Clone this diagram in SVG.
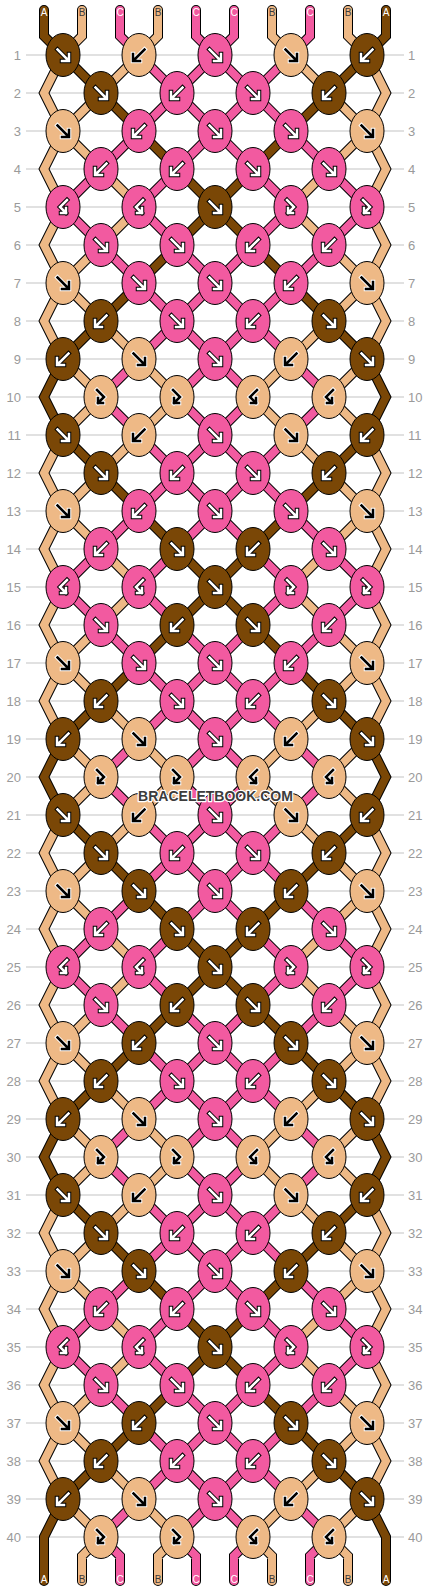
<svg xmlns="http://www.w3.org/2000/svg" width="430" height="1592" viewBox="0 0 430 1592">
<style>
.gl{fill:none;stroke:#c3c3c3;stroke-width:1}
.num{font-family:"Liberation Sans",Arial,sans-serif;font-size:13px;fill:#9a9a9a}
.nl{text-anchor:end}
.ol,.sA,.sB,.sC{fill:none;stroke-linejoin:miter;stroke-linecap:round}
.ol{stroke:#000;stroke-width:10}
.sA{stroke:#7a4706;stroke-width:8}
.sB{stroke:#eeb986;stroke-width:8}
.sC{stroke:#f25aa0;stroke-width:8}
.eA,.eB,.eC{stroke:#000;stroke-width:1}
.eA{fill:#7a4706}.eB{fill:#eeb986}.eC{fill:#f25aa0}
.wo,.wi,.bo,.bi{fill:none;stroke-linejoin:miter;stroke-linecap:square}
.wo{stroke:#000;stroke-width:4.5}.wi{stroke:#fff;stroke-width:2.5}
.bo{stroke:#fff;stroke-width:4.5}.bi{stroke:#000;stroke-width:2.5}
.lb{font-family:"Liberation Sans",Arial,sans-serif;font-size:10px;text-anchor:middle}
.lw{fill:#fff}.ld{fill:#3a3a3a}
.wm{font-family:"Liberation Sans",Arial,sans-serif;font-size:14px;font-weight:bold;text-anchor:middle;fill:#3c3c3c;stroke:#fff;stroke-width:2.5;paint-order:stroke;stroke-linejoin:round}
</style>
<defs>
<path id="pF" d="M-5.5-5.5L4.5 4.5M6-1V6H-1"/>
<path id="pB" d="M5.5-5.5L-4.5 4.5M-6-1V6H1"/>
<path id="pFB" d="M-4-7L3 0L-3 6M-3 1V6H2"/>
<path id="pBF" d="M4-7L-3 0L3 6M3 1V6H-2"/>
<g id="nAF"><ellipse class="eA" rx="17" ry="21.5"/><use href="#pF" class="wo"/><use href="#pF" class="wi"/></g>
<g id="nAB"><ellipse class="eA" rx="17" ry="21.5"/><use href="#pB" class="wo"/><use href="#pB" class="wi"/></g>
<g id="nBF"><ellipse class="eB" rx="17" ry="21.5"/><use href="#pF" class="bo"/><use href="#pF" class="bi"/></g>
<g id="nBB"><ellipse class="eB" rx="17" ry="21.5"/><use href="#pB" class="bo"/><use href="#pB" class="bi"/></g>
<g id="nBX"><ellipse class="eB" rx="17" ry="21.5"/><use href="#pFB" class="bo"/><use href="#pFB" class="bi"/></g>
<g id="nBY"><ellipse class="eB" rx="17" ry="21.5"/><use href="#pBF" class="bo"/><use href="#pBF" class="bi"/></g>
<g id="nCF"><ellipse class="eC" rx="17" ry="21.5"/><use href="#pF" class="wo"/><use href="#pF" class="wi"/></g>
<g id="nCB"><ellipse class="eC" rx="17" ry="21.5"/><use href="#pB" class="wo"/><use href="#pB" class="wi"/></g>
<g id="nCX"><ellipse class="eC" rx="17" ry="21.5"/><use href="#pFB" class="wo"/><use href="#pFB" class="wi"/></g>
<g id="nCY"><ellipse class="eC" rx="17" ry="21.5"/><use href="#pBF" class="wo"/><use href="#pBF" class="wi"/></g>
<path id="blA" d="M63 55L367 359L386 397L367 435M367 55L63 359L44 397L63 435"/>
<path id="blB" d="M63 55L44 93L63 131L139 207L101 245L63 283L44 321L63 359L101 397L63 435M367 55L386 93L367 131L291 207L329 245L367 283L386 321L367 359L329 397L367 435M139 55L63 131L44 169L63 207L44 245L63 283L177 397L139 435M291 55L367 131L386 169L367 207L386 245L367 283L253 397L291 435"/>
<path id="blC" d="M139 55L291 207L101 397L139 435M291 55L139 207L329 397L291 435M215 55L367 207L177 397L215 435M215 55L63 207L253 397L215 435"/>
<g id="gA"><use href="#blA"/><use href="#blA" y="380"/><use href="#blA" y="760"/><path d="M63 1195L367 1499L386 1537V1581M367 1195L63 1499L44 1537V1581M44 10V36L63 55M386 10V36L367 55"/></g>
<g id="gB"><use href="#blB"/><use href="#blB" y="380"/><use href="#blB" y="760"/><path d="M63 1195L44 1233L63 1271L139 1347L101 1385L63 1423L44 1461L63 1499L101 1537L82 1556V1581M367 1195L386 1233L367 1271L291 1347L329 1385L367 1423L386 1461L367 1499L329 1537L348 1556V1581M139 1195L63 1271L44 1309L63 1347L44 1385L63 1423L177 1537L158 1556V1581M291 1195L367 1271L386 1309L367 1347L386 1385L367 1423L253 1537L272 1556V1581M82 10V36L63 55M158 10V36L139 55M272 10V36L291 55M348 10V36L367 55"/></g>
<g id="gC"><use href="#blC"/><use href="#blC" y="380"/><use href="#blC" y="760"/><path d="M139 1195L291 1347L101 1537L120 1556V1581M291 1195L139 1347L329 1537L310 1556V1581M215 1195L367 1347L177 1537L196 1556V1581M215 1195L63 1347L253 1537L234 1556V1581M120 10V36L139 55M196 10V36L215 55M234 10V36L215 55M310 10V36L291 55"/></g>
</defs>
<rect width="430" height="1592" fill="#fff"/>
<path id="gridlines" class="gl" d="M26 55H404M26 93H404M26 131H404M26 169H404M26 207H404M26 245H404M26 283H404M26 321H404M26 359H404M26 397H404M26 435H404M26 473H404M26 511H404M26 549H404M26 587H404M26 625H404M26 663H404M26 701H404M26 739H404M26 777H404M26 815H404M26 853H404M26 891H404M26 929H404M26 967H404M26 1005H404M26 1043H404M26 1081H404M26 1119H404M26 1157H404M26 1195H404M26 1233H404M26 1271H404M26 1309H404M26 1347H404M26 1385H404M26 1423H404M26 1461H404M26 1499H404M26 1537H404"/>
<g id="rownumbers" class="num" transform="translate(0 4.5)">
<g class="nl">
<text x="21" y="55">1</text><text x="21" y="93">2</text><text x="21" y="131">3</text><text x="21" y="169">4</text><text x="21" y="207">5</text><text x="21" y="245">6</text><text x="21" y="283">7</text><text x="21" y="321">8</text><text x="21" y="359">9</text><text x="21" y="397">10</text>
<text x="21" y="435">11</text><text x="21" y="473">12</text><text x="21" y="511">13</text><text x="21" y="549">14</text><text x="21" y="587">15</text><text x="21" y="625">16</text><text x="21" y="663">17</text><text x="21" y="701">18</text><text x="21" y="739">19</text><text x="21" y="777">20</text>
<text x="21" y="815">21</text><text x="21" y="853">22</text><text x="21" y="891">23</text><text x="21" y="929">24</text><text x="21" y="967">25</text><text x="21" y="1005">26</text><text x="21" y="1043">27</text><text x="21" y="1081">28</text><text x="21" y="1119">29</text><text x="21" y="1157">30</text>
<text x="21" y="1195">31</text><text x="21" y="1233">32</text><text x="21" y="1271">33</text><text x="21" y="1309">34</text><text x="21" y="1347">35</text><text x="21" y="1385">36</text><text x="21" y="1423">37</text><text x="21" y="1461">38</text><text x="21" y="1499">39</text><text x="21" y="1537">40</text>
</g>
<g>
<text x="408" y="55">1</text><text x="408" y="93">2</text><text x="408" y="131">3</text><text x="408" y="169">4</text><text x="408" y="207">5</text><text x="408" y="245">6</text><text x="408" y="283">7</text><text x="408" y="321">8</text><text x="408" y="359">9</text><text x="408" y="397">10</text>
<text x="408" y="435">11</text><text x="408" y="473">12</text><text x="408" y="511">13</text><text x="408" y="549">14</text><text x="408" y="587">15</text><text x="408" y="625">16</text><text x="408" y="663">17</text><text x="408" y="701">18</text><text x="408" y="739">19</text><text x="408" y="777">20</text>
<text x="408" y="815">21</text><text x="408" y="853">22</text><text x="408" y="891">23</text><text x="408" y="929">24</text><text x="408" y="967">25</text><text x="408" y="1005">26</text><text x="408" y="1043">27</text><text x="408" y="1081">28</text><text x="408" y="1119">29</text><text x="408" y="1157">30</text>
<text x="408" y="1195">31</text><text x="408" y="1233">32</text><text x="408" y="1271">33</text><text x="408" y="1309">34</text><text x="408" y="1347">35</text><text x="408" y="1385">36</text><text x="408" y="1423">37</text><text x="408" y="1461">38</text><text x="408" y="1499">39</text><text x="408" y="1537">40</text>
</g>
</g>
<g id="connectors">
<use href="#gA" class="ol"/><use href="#gB" class="ol"/><use href="#gC" class="ol"/>
<use href="#gA" class="sA"/><use href="#gB" class="sB"/><use href="#gC" class="sC"/>
</g>
<g id="knots">
<g id="k1_1"><use href="#nAF" x="63" y="55"/></g><g id="k1_2"><use href="#nBB" x="139" y="55"/></g><g id="k1_3"><use href="#nCF" x="215" y="55"/></g><g id="k1_4"><use href="#nBF" x="291" y="55"/></g><g id="k1_5"><use href="#nAB" x="367" y="55"/></g>
<g id="k2_1"><use href="#nAF" x="101" y="93"/></g><g id="k2_2"><use href="#nCB" x="177" y="93"/></g><g id="k2_3"><use href="#nCF" x="253" y="93"/></g><g id="k2_4"><use href="#nAB" x="329" y="93"/></g>
<g id="k3_1"><use href="#nBF" x="63" y="131"/></g><g id="k3_2"><use href="#nCB" x="139" y="131"/></g><g id="k3_3"><use href="#nCF" x="215" y="131"/></g><g id="k3_4"><use href="#nCF" x="291" y="131"/></g><g id="k3_5"><use href="#nBF" x="367" y="131"/></g>
<g id="k4_1"><use href="#nCB" x="101" y="169"/></g><g id="k4_2"><use href="#nCB" x="177" y="169"/></g><g id="k4_3"><use href="#nCF" x="253" y="169"/></g><g id="k4_4"><use href="#nCF" x="329" y="169"/></g>
<g id="k5_1"><use href="#nCY" x="63" y="207"/></g><g id="k5_2"><use href="#nCY" x="139" y="207"/></g><g id="k5_3"><use href="#nAF" x="215" y="207"/></g><g id="k5_4"><use href="#nCX" x="291" y="207"/></g><g id="k5_5"><use href="#nCX" x="367" y="207"/></g>
<g id="k6_1"><use href="#nCF" x="101" y="245"/></g><g id="k6_2"><use href="#nCF" x="177" y="245"/></g><g id="k6_3"><use href="#nCB" x="253" y="245"/></g><g id="k6_4"><use href="#nCB" x="329" y="245"/></g>
<g id="k7_1"><use href="#nBF" x="63" y="283"/></g><g id="k7_2"><use href="#nCF" x="139" y="283"/></g><g id="k7_3"><use href="#nCF" x="215" y="283"/></g><g id="k7_4"><use href="#nCB" x="291" y="283"/></g><g id="k7_5"><use href="#nBF" x="367" y="283"/></g>
<g id="k8_1"><use href="#nAB" x="101" y="321"/></g><g id="k8_2"><use href="#nCF" x="177" y="321"/></g><g id="k8_3"><use href="#nCB" x="253" y="321"/></g><g id="k8_4"><use href="#nAF" x="329" y="321"/></g>
<g id="k9_1"><use href="#nAB" x="63" y="359"/></g><g id="k9_2"><use href="#nBF" x="139" y="359"/></g><g id="k9_3"><use href="#nCF" x="215" y="359"/></g><g id="k9_4"><use href="#nBB" x="291" y="359"/></g><g id="k9_5"><use href="#nAF" x="367" y="359"/></g>
<g id="k10_1"><use href="#nBX" x="101" y="397"/></g><g id="k10_2"><use href="#nBX" x="177" y="397"/></g><g id="k10_3"><use href="#nBY" x="253" y="397"/></g><g id="k10_4"><use href="#nBY" x="329" y="397"/></g>
<g id="k11_1"><use href="#nAF" x="63" y="435"/></g><g id="k11_2"><use href="#nBB" x="139" y="435"/></g><g id="k11_3"><use href="#nCF" x="215" y="435"/></g><g id="k11_4"><use href="#nBF" x="291" y="435"/></g><g id="k11_5"><use href="#nAB" x="367" y="435"/></g>
<g id="k12_1"><use href="#nAF" x="101" y="473"/></g><g id="k12_2"><use href="#nCB" x="177" y="473"/></g><g id="k12_3"><use href="#nCF" x="253" y="473"/></g><g id="k12_4"><use href="#nAB" x="329" y="473"/></g>
<g id="k13_1"><use href="#nBF" x="63" y="511"/></g><g id="k13_2"><use href="#nCB" x="139" y="511"/></g><g id="k13_3"><use href="#nCF" x="215" y="511"/></g><g id="k13_4"><use href="#nCF" x="291" y="511"/></g><g id="k13_5"><use href="#nBF" x="367" y="511"/></g>
<g id="k14_1"><use href="#nCB" x="101" y="549"/></g><g id="k14_2"><use href="#nAF" x="177" y="549"/></g><g id="k14_3"><use href="#nAB" x="253" y="549"/></g><g id="k14_4"><use href="#nCF" x="329" y="549"/></g>
<g id="k15_1"><use href="#nCY" x="63" y="587"/></g><g id="k15_2"><use href="#nCY" x="139" y="587"/></g><g id="k15_3"><use href="#nAF" x="215" y="587"/></g><g id="k15_4"><use href="#nCX" x="291" y="587"/></g><g id="k15_5"><use href="#nCX" x="367" y="587"/></g>
<g id="k16_1"><use href="#nCF" x="101" y="625"/></g><g id="k16_2"><use href="#nAB" x="177" y="625"/></g><g id="k16_3"><use href="#nAF" x="253" y="625"/></g><g id="k16_4"><use href="#nCB" x="329" y="625"/></g>
<g id="k17_1"><use href="#nBF" x="63" y="663"/></g><g id="k17_2"><use href="#nCF" x="139" y="663"/></g><g id="k17_3"><use href="#nCF" x="215" y="663"/></g><g id="k17_4"><use href="#nCB" x="291" y="663"/></g><g id="k17_5"><use href="#nBF" x="367" y="663"/></g>
<g id="k18_1"><use href="#nAB" x="101" y="701"/></g><g id="k18_2"><use href="#nCF" x="177" y="701"/></g><g id="k18_3"><use href="#nCB" x="253" y="701"/></g><g id="k18_4"><use href="#nAF" x="329" y="701"/></g>
<g id="k19_1"><use href="#nAB" x="63" y="739"/></g><g id="k19_2"><use href="#nBF" x="139" y="739"/></g><g id="k19_3"><use href="#nCF" x="215" y="739"/></g><g id="k19_4"><use href="#nBB" x="291" y="739"/></g><g id="k19_5"><use href="#nAF" x="367" y="739"/></g>
<g id="k20_1"><use href="#nBX" x="101" y="777"/></g><g id="k20_2"><use href="#nBX" x="177" y="777"/></g><g id="k20_3"><use href="#nBY" x="253" y="777"/></g><g id="k20_4"><use href="#nBY" x="329" y="777"/></g>
<g id="k21_1"><use href="#nAF" x="63" y="815"/></g><g id="k21_2"><use href="#nBB" x="139" y="815"/></g><g id="k21_3"><use href="#nCF" x="215" y="815"/></g><g id="k21_4"><use href="#nBF" x="291" y="815"/></g><g id="k21_5"><use href="#nAB" x="367" y="815"/></g>
<g id="k22_1"><use href="#nAF" x="101" y="853"/></g><g id="k22_2"><use href="#nCB" x="177" y="853"/></g><g id="k22_3"><use href="#nCF" x="253" y="853"/></g><g id="k22_4"><use href="#nAB" x="329" y="853"/></g>
<g id="k23_1"><use href="#nBF" x="63" y="891"/></g><g id="k23_2"><use href="#nAF" x="139" y="891"/></g><g id="k23_3"><use href="#nCF" x="215" y="891"/></g><g id="k23_4"><use href="#nAB" x="291" y="891"/></g><g id="k23_5"><use href="#nBF" x="367" y="891"/></g>
<g id="k24_1"><use href="#nCB" x="101" y="929"/></g><g id="k24_2"><use href="#nAF" x="177" y="929"/></g><g id="k24_3"><use href="#nAB" x="253" y="929"/></g><g id="k24_4"><use href="#nCF" x="329" y="929"/></g>
<g id="k25_1"><use href="#nCY" x="63" y="967"/></g><g id="k25_2"><use href="#nCY" x="139" y="967"/></g><g id="k25_3"><use href="#nAF" x="215" y="967"/></g><g id="k25_4"><use href="#nCX" x="291" y="967"/></g><g id="k25_5"><use href="#nCX" x="367" y="967"/></g>
<g id="k26_1"><use href="#nCF" x="101" y="1005"/></g><g id="k26_2"><use href="#nAB" x="177" y="1005"/></g><g id="k26_3"><use href="#nAF" x="253" y="1005"/></g><g id="k26_4"><use href="#nCB" x="329" y="1005"/></g>
<g id="k27_1"><use href="#nBF" x="63" y="1043"/></g><g id="k27_2"><use href="#nAB" x="139" y="1043"/></g><g id="k27_3"><use href="#nCF" x="215" y="1043"/></g><g id="k27_4"><use href="#nAF" x="291" y="1043"/></g><g id="k27_5"><use href="#nBF" x="367" y="1043"/></g>
<g id="k28_1"><use href="#nAB" x="101" y="1081"/></g><g id="k28_2"><use href="#nCF" x="177" y="1081"/></g><g id="k28_3"><use href="#nCB" x="253" y="1081"/></g><g id="k28_4"><use href="#nAF" x="329" y="1081"/></g>
<g id="k29_1"><use href="#nAB" x="63" y="1119"/></g><g id="k29_2"><use href="#nBF" x="139" y="1119"/></g><g id="k29_3"><use href="#nCF" x="215" y="1119"/></g><g id="k29_4"><use href="#nBB" x="291" y="1119"/></g><g id="k29_5"><use href="#nAF" x="367" y="1119"/></g>
<g id="k30_1"><use href="#nBX" x="101" y="1157"/></g><g id="k30_2"><use href="#nBX" x="177" y="1157"/></g><g id="k30_3"><use href="#nBY" x="253" y="1157"/></g><g id="k30_4"><use href="#nBY" x="329" y="1157"/></g>
<g id="k31_1"><use href="#nAF" x="63" y="1195"/></g><g id="k31_2"><use href="#nBB" x="139" y="1195"/></g><g id="k31_3"><use href="#nCF" x="215" y="1195"/></g><g id="k31_4"><use href="#nBF" x="291" y="1195"/></g><g id="k31_5"><use href="#nAB" x="367" y="1195"/></g>
<g id="k32_1"><use href="#nAF" x="101" y="1233"/></g><g id="k32_2"><use href="#nCB" x="177" y="1233"/></g><g id="k32_3"><use href="#nCB" x="253" y="1233"/></g><g id="k32_4"><use href="#nAB" x="329" y="1233"/></g>
<g id="k33_1"><use href="#nBF" x="63" y="1271"/></g><g id="k33_2"><use href="#nAF" x="139" y="1271"/></g><g id="k33_3"><use href="#nCF" x="215" y="1271"/></g><g id="k33_4"><use href="#nAB" x="291" y="1271"/></g><g id="k33_5"><use href="#nBF" x="367" y="1271"/></g>
<g id="k34_1"><use href="#nCB" x="101" y="1309"/></g><g id="k34_2"><use href="#nCB" x="177" y="1309"/></g><g id="k34_3"><use href="#nCF" x="253" y="1309"/></g><g id="k34_4"><use href="#nCF" x="329" y="1309"/></g>
<g id="k35_1"><use href="#nCY" x="63" y="1347"/></g><g id="k35_2"><use href="#nCY" x="139" y="1347"/></g><g id="k35_3"><use href="#nAF" x="215" y="1347"/></g><g id="k35_4"><use href="#nCX" x="291" y="1347"/></g><g id="k35_5"><use href="#nCX" x="367" y="1347"/></g>
<g id="k36_1"><use href="#nCF" x="101" y="1385"/></g><g id="k36_2"><use href="#nCF" x="177" y="1385"/></g><g id="k36_3"><use href="#nCB" x="253" y="1385"/></g><g id="k36_4"><use href="#nCB" x="329" y="1385"/></g>
<g id="k37_1"><use href="#nBF" x="63" y="1423"/></g><g id="k37_2"><use href="#nAB" x="139" y="1423"/></g><g id="k37_3"><use href="#nCF" x="215" y="1423"/></g><g id="k37_4"><use href="#nAF" x="291" y="1423"/></g><g id="k37_5"><use href="#nBF" x="367" y="1423"/></g>
<g id="k38_1"><use href="#nAB" x="101" y="1461"/></g><g id="k38_2"><use href="#nCB" x="177" y="1461"/></g><g id="k38_3"><use href="#nCB" x="253" y="1461"/></g><g id="k38_4"><use href="#nAF" x="329" y="1461"/></g>
<g id="k39_1"><use href="#nAB" x="63" y="1499"/></g><g id="k39_2"><use href="#nBF" x="139" y="1499"/></g><g id="k39_3"><use href="#nCF" x="215" y="1499"/></g><g id="k39_4"><use href="#nBB" x="291" y="1499"/></g><g id="k39_5"><use href="#nAF" x="367" y="1499"/></g>
<g id="k40_1"><use href="#nBX" x="101" y="1537"/></g><g id="k40_2"><use href="#nBX" x="177" y="1537"/></g><g id="k40_3"><use href="#nBY" x="253" y="1537"/></g><g id="k40_4"><use href="#nBY" x="329" y="1537"/></g>
</g>
<g id="labels" class="lb">
<text class="lw" x="44" y="16">A</text><text class="ld" x="82" y="16">B</text><text class="lw" x="120" y="16">C</text><text class="ld" x="158" y="16">B</text><text class="lw" x="196" y="16">C</text><text class="lw" x="234" y="16">C</text><text class="ld" x="272" y="16">B</text><text class="lw" x="310" y="16">C</text><text class="ld" x="348" y="16">B</text><text class="lw" x="386" y="16">A</text>
<text class="lw" x="44" y="1583">A</text><text class="ld" x="82" y="1583">B</text><text class="lw" x="120" y="1583">C</text><text class="ld" x="158" y="1583">B</text><text class="lw" x="196" y="1583">C</text><text class="lw" x="234" y="1583">C</text><text class="ld" x="272" y="1583">B</text><text class="lw" x="310" y="1583">C</text><text class="ld" x="348" y="1583">B</text><text class="lw" x="386" y="1583">A</text>
</g>
<text id="watermark" class="wm" x="215.5" y="801">BRACELETBOOK.COM</text>
</svg>
